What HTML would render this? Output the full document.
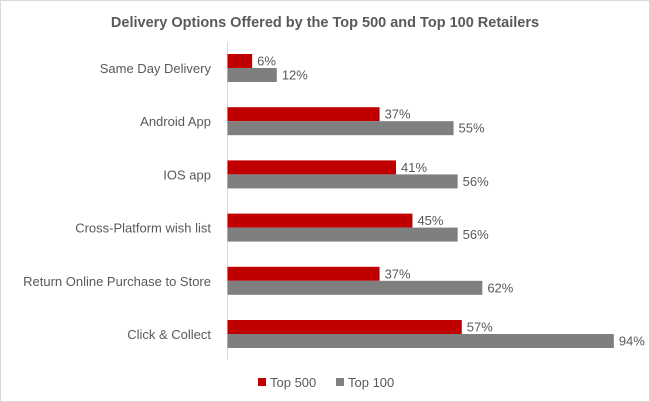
<!DOCTYPE html>
<html><head><meta charset="utf-8"><style>
body{margin:0;background:#fff}
svg{display:block;font-family:"Liberation Sans",sans-serif}
</style></head><body>
<svg width="650" height="402">
<rect x="0.5" y="0.5" width="649" height="401" fill="#fff" stroke="#d9d9d9"/>
<text x="325" y="27" text-anchor="middle" font-size="14.5" font-weight="bold" fill="#595959">Delivery Options Offered by the Top 500 and Top 100 Retailers</text>
<line x1="227.5" y1="42" x2="227.5" y2="360" stroke="#d9d9d9"/>
<g id="bars"></g>
<rect x="258" y="378" width="8" height="8" fill="#c00000"/>
<text x="270" y="387" font-size="13" fill="#595959">Top 500</text>
<rect x="336" y="378" width="8" height="8" fill="#7f7f7f"/>
<text x="348" y="387" font-size="13" fill="#595959">Top 100</text>
</svg>
<script>
const categories=["Same Day Delivery","Android App","IOS app","Cross-Platform wish list","Return Online Purchase to Store","Click & Collect"];
const top500=[6,37,41,45,37,57];
const top100=[12,55,56,56,62,94];
const ns="http://www.w3.org/2000/svg";
const g=document.getElementById("bars");
const x0=227.5,pxPer=4.11,rowTop=54,rowStep=53.2,bh=14;
function xs(v){return v*pxPer;}
function mk(tag,attrs){const e=document.createElementNS(ns,tag);for(const k in attrs)e.setAttribute(k,attrs[k]);g.appendChild(e);return e;}
categories.forEach((c,i)=>{
  const y=rowTop+i*rowStep;
  const t=mk("text",{x:211,y:y+bh+5,"text-anchor":"end","font-size":"13",fill:"#595959"});
  t.textContent=c;
  
  
  [[top500,"#c00000",0],[top100,"#7f7f7f",bh]].forEach(([arr,col,off],s)=>{
    const v=arr[i];
    const r=mk("rect",{x:x0,y:y+off,width:xs(v),height:bh,fill:col});
    
    
    const l=mk("text",{x:x0+xs(v)+5,y:y+off+bh/2+4.5,"font-size":"13",fill:"#595959"});
    l.textContent=v+"%";
    
    
  });
});
</script>
</body></html>
